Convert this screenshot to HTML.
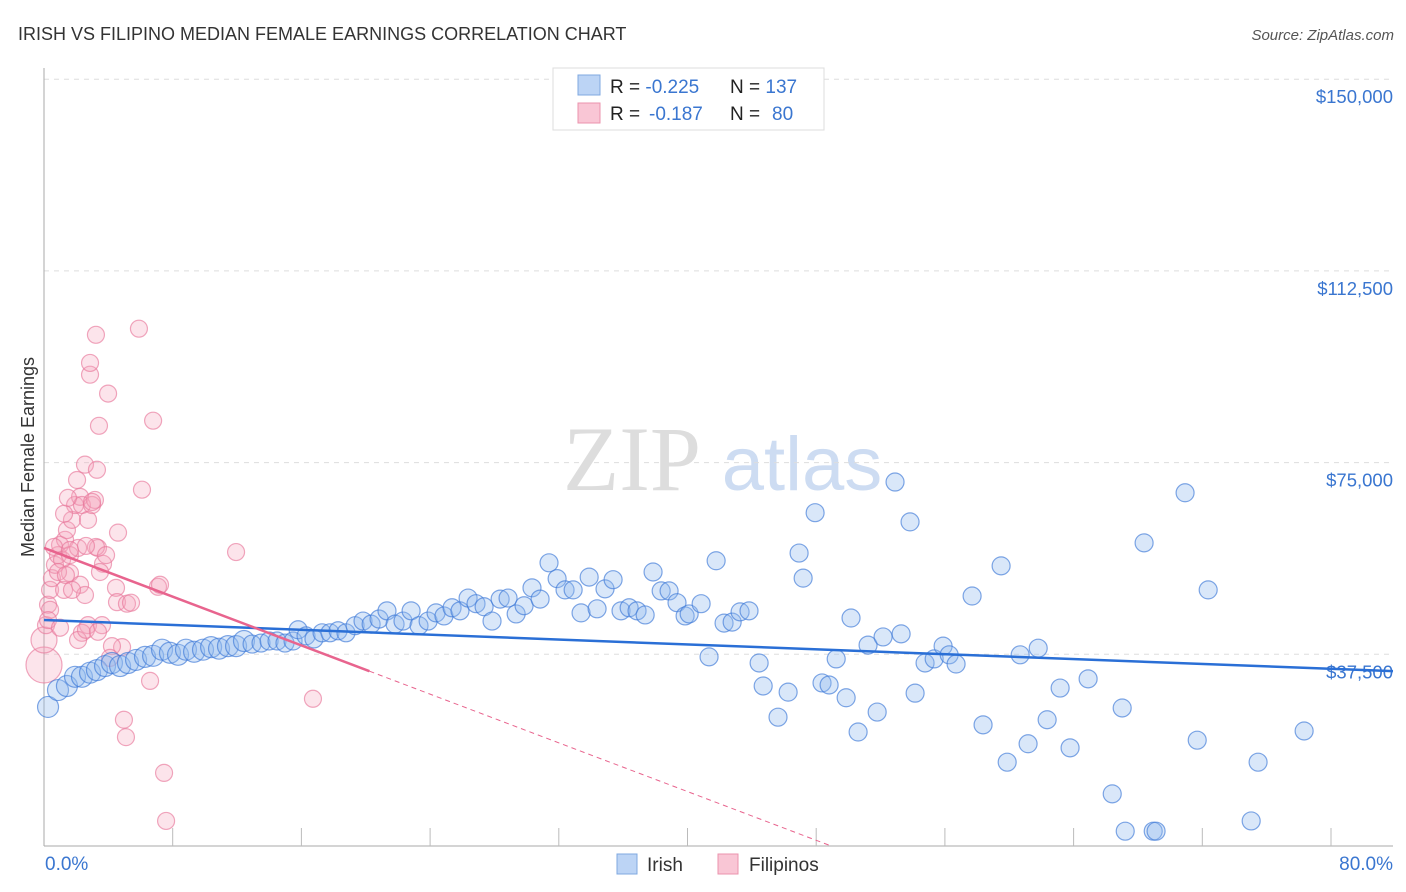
<!DOCTYPE html>
<html><head><meta charset="utf-8"><style>
body{margin:0;background:#fff;font-family:"Liberation Sans",sans-serif;}
svg{display:block}
</style></head><body>
<svg id="chart" width="1406" height="892">
<text x="18" y="40" font-size="18" fill="#333">IRISH VS FILIPINO MEDIAN FEMALE EARNINGS CORRELATION CHART</text>
<text x="1394" y="40" font-size="15" fill="#555" font-style="italic" text-anchor="end">Source: ZipAtlas.com</text>
<text x="34" y="457" font-size="18" fill="#333" text-anchor="middle" transform="rotate(-90 34 457)">Median Female Earnings</text>
<g>
<text x="632" y="490" font-size="92" fill="#ddd" font-family="Liberation Serif,serif" text-anchor="middle">ZIP</text>
<text x="802" y="490" font-size="76" fill="#cddcf2" text-anchor="middle">atlas</text>
</g>
<g id="grid"></g><g id="axes"></g><g id="pink"></g><g id="blue"></g><g id="trend"></g>
<g>
<rect x="553" y="68" width="271" height="62" fill="#fff" stroke="#ddd"/>
<rect x="578" y="75" width="22" height="20" fill="#bcd4f5" stroke="#7fa8e0"/>
<rect x="578" y="103" width="22" height="20" fill="#f9c6d5" stroke="#eb93ad"/>
<text x="610" y="93" font-size="19" fill="#222">R = <tspan fill="#3a76d0">-0.225</tspan><tspan x="730">N = </tspan><tspan fill="#3a76d0">137</tspan></text>
<text x="610" y="120" font-size="19" fill="#222">R = <tspan fill="#3a76d0" x="649">-0.187</tspan><tspan x="730">N = </tspan><tspan fill="#3a76d0" x="772">80</tspan></text>
</g>
<g>
<rect x="617" y="854" width="20" height="20" fill="#bcd4f5" stroke="#7fa8e0"/>
<text x="647" y="871" font-size="19" fill="#333">Irish</text>
<rect x="718" y="854" width="20" height="20" fill="#f9c6d5" stroke="#eb93ad"/>
<text x="749" y="871" font-size="19" fill="#333">Filipinos</text>
</g>
</svg>
<script>
const yTicks=[37500,75000,112500,150000];
const yTickLabels=["$37,500","$75,000","$112,500","$150,000"];
const xTickLabels=["0.0%","80.0%"];
const blueX=[0.24,0.83,1.36,1.84,2.25,2.73,3.14,3.62,4.03,4.51,4.98,5.46,5.99,6.47,7.0,7.47,7.95,8.42,8.9,9.43,9.91,10.38,10.91,11.39,11.86,12.34,12.87,13.35,13.82,14.29,14.77,15.07,15.54,16.01,16.49,16.96,17.44,17.91,18.45,18.92,19.4,19.87,20.34,20.82,21.29,21.77,22.24,22.78,23.25,23.72,24.2,24.67,25.15,25.62,26.1,26.57,27.05,27.52,28.0,28.47,28.94,29.42,29.95,30.43,30.9,31.38,31.85,32.33,32.8,33.27,33.75,34.22,34.7,35.17,35.65,36.12,36.6,37.07,37.54,38.02,38.26,38.97,39.44,39.86,40.33,40.81,41.28,41.81,42.41,42.65,43.53,44.13,44.78,45.02,45.73,46.14,46.56,46.98,47.57,47.86,48.28,48.87,49.41,49.76,50.47,50.83,51.36,51.66,52.25,52.79,53.32,53.68,54.09,55.04,55.69,56.76,57.12,57.89,58.36,58.96,59.49,60.26,60.85,61.92,63.35,63.94,64.12,65.24,65.78,65.95,67.67,68.39,69.04,71.59,72.0,74.73];
const blueY=[27.2,30.5,31.3,33.1,33.1,33.9,34.4,35.2,35.8,35.2,35.8,36.4,37.0,37.2,38.4,37.8,37.4,38.4,38.0,38.4,38.9,38.6,39.1,39.1,40.1,39.5,39.7,40.1,40.1,39.7,40.1,42.3,41.1,40.5,41.7,41.7,42.1,41.7,43.1,44.0,43.4,44.4,46.0,43.4,44.0,46.0,43.1,44.0,45.6,45.0,46.6,46.0,48.5,47.4,46.8,44.0,48.3,48.5,45.4,47.0,50.5,48.3,55.4,52.3,50.1,50.1,45.6,52.6,46.4,50.3,52.1,46.0,46.6,46.0,45.2,53.6,49.9,49.9,47.6,45.0,45.4,47.4,37.0,55.8,43.6,43.8,45.8,46.0,35.8,31.3,25.2,30.1,57.3,52.4,65.2,31.9,31.5,36.6,29.0,44.6,22.3,39.3,26.2,40.9,71.2,41.5,63.4,29.9,35.8,36.6,39.1,37.4,35.6,48.9,23.7,54.8,16.4,37.4,20.0,38.7,24.7,30.9,19.2,32.7,10.2,27.0,2.9,59.3,2.9,2.9,69.1,20.7,50.1,4.9,16.4,22.5];
const pinkX=[0,0,0.12,0.24,0.36,0.47,0.65,0.83,0.95,1.07,1.25,1.36,1.54,1.66,1.84,1.96,2.14,2.25,2.43,2.61,2.85,3.02,3.14,3.26,3.08,2.73,2.73,3.8,2.85,3.2,3.5,4.39,5.81,6.47,5.63,3.08,2.02,1.19,1.54,2.14,2.43,2.61,2.25,2.02,2.49,3.44,3.2,4.27,4.33,4.92,5.16,6.76,6.88,4.63,4.03,3.91,6.29,4.74,4.86,7.12,7.24,11.39,15.95,0.59,0.83,1.3,1.66,0.36,0.24,3.32,3.68,0.95,1.54,2.49,1.19,1.42];
const pinkY=[35.4,40.3,43.2,47.2,50.1,52.4,55.0,56.9,58.9,56.0,59.9,61.8,56.9,63.8,66.7,71.6,68.3,66.7,74.6,63.8,66.7,67.7,73.6,82.2,100.0,92.2,94.5,88.5,67.3,58.3,55.2,61.3,69.7,83.2,101.2,58.5,58.3,50.1,53.4,51.1,49.1,43.2,41.7,40.3,42.3,43.2,41.9,50.5,47.7,47.4,47.6,50.7,51.1,38.9,39.1,36.8,32.3,24.7,21.3,14.3,4.9,57.5,28.8,58.5,53.6,53.0,50.1,46.2,44.2,53.6,56.9,42.7,57.9,58.7,65.0,68.1];
const blueTrend=[44.2,34.2];
const pinkTrend=[58.3,34.2,19.3];
const NS="http://www.w3.org/2000/svg";
const X0=44,X1=1393,Y0=846,PXK=191.7/37.5;
const sx=v=>X0+v/80*(X1-X0);
const sy=k=>Y0-k*PXK;
function mk(tag,attrs,parent){const e=document.createElementNS(NS,tag);for(const k in attrs)e.setAttribute(k,attrs[k]);document.getElementById(parent).appendChild(e);return e;}
yTicks.forEach((t,i)=>{
 const g=mk('line',{x1:X0,x2:X1,y1:sy(t/1000),y2:sy(t/1000),stroke:'#ddd','stroke-dasharray':'5,5'},'grid');
 
 
 const l=mk('text',{x:1393,y:sy(t/1000)+24,'font-size':18.5,fill:'#3a76d0','text-anchor':'end'},'grid');
 l.textContent=yTickLabels[i];
 
 
});
let ax=mk('line',{x1:X0,x2:X0,y1:68,y2:Y0,stroke:'#aaa'},'axes');


ax=mk('line',{x1:X0,x2:X1,y1:Y0,y2:Y0,stroke:'#aaa'},'axes');


for(let i=1;i<=10;i++){const t=mk('line',{x1:X0+i*128.7,x2:X0+i*128.7,y1:Y0,y2:Y0-18,stroke:'#bbb'},'axes');
 
 }
let xl=mk('text',{x:45,y:870,'font-size':19,fill:'#3a76d0'},'axes');xl.textContent=xTickLabels[0];


xl=mk('text',{x:1393,y:870,'font-size':19,fill:'#3a76d0','text-anchor':'end'},'axes');xl.textContent=xTickLabels[1];


pinkX.forEach((v,i)=>{
 const r=i==0?18:(i==1?13:8.5);
 const c=mk('circle',{cx:sx(v),cy:sy(pinkY[i]),r:r,fill:'rgba(245,165,190,0.3)',stroke:'rgba(232,120,155,0.65)','stroke-width':1.2},'pink');
 
 
});
blueX.forEach((v,i)=>{
 const r=v<12?10.5:9;
 const c=mk('circle',{cx:sx(v),cy:sy(blueY[i]),r:r,fill:'rgba(145,185,238,0.35)',stroke:'rgba(60,120,215,0.65)','stroke-width':1.2},'blue');
 
 
});
let tl=mk('line',{x1:sx(0),y1:sy(blueTrend[0]),x2:sx(80),y2:sy(blueTrend[1]),stroke:'#2a6fd6','stroke-width':2.5},'trend');


const slope=(pinkTrend[1]-pinkTrend[0])/pinkTrend[2];
const xz=-pinkTrend[0]/slope;
tl=mk('line',{x1:sx(0),y1:sy(pinkTrend[0]),x2:sx(pinkTrend[2]),y2:sy(pinkTrend[1]),stroke:'#e8648e','stroke-width':2.5},'trend');


tl=mk('line',{x1:sx(pinkTrend[2]),y1:sy(pinkTrend[1]),x2:sx(xz),y2:sy(0),stroke:'#e8648e','stroke-width':1,'stroke-dasharray':'5,4'},'trend');


</script>
</body></html>
